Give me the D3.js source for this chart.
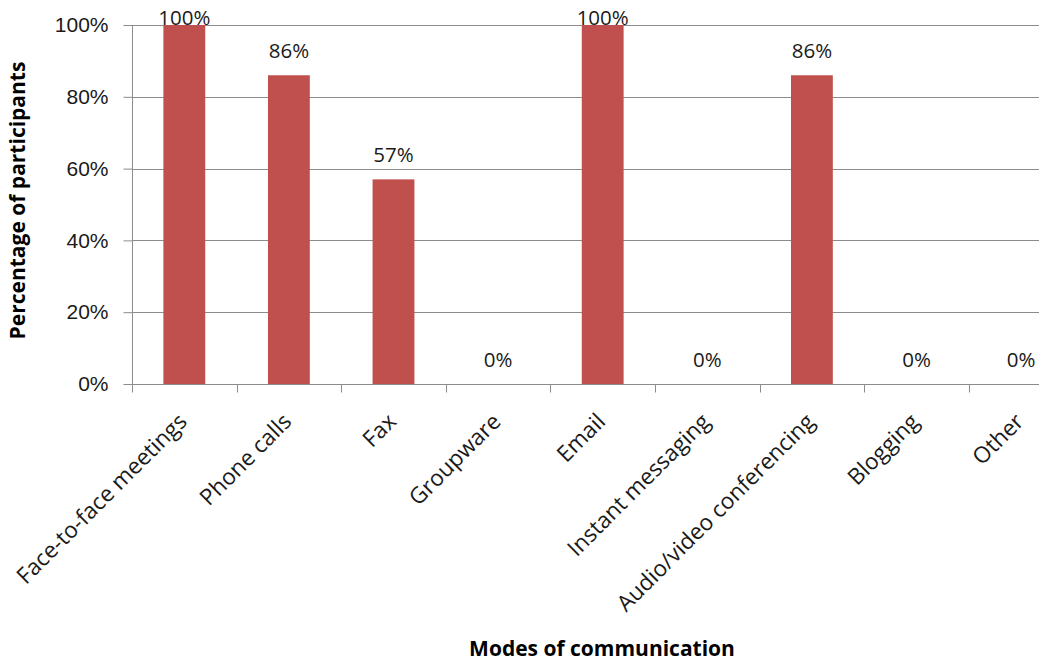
<!DOCTYPE html>
<html>
<head>
<meta charset="utf-8">
<script src="https://cdn.jsdelivr.net/npm/d3@7"></script>
<style>
  html, body { margin: 0; padding: 0; background: #fff; }
  svg { display: block; font-family: "Open Sans", sans-serif; }
</style>
</head>
<body>
<svg id="chart" width="1039" height="664"></svg>
<script>
// Share of participants using each mode of communication
const categories = [
  "Face-to-face meetings", "Phone calls", "Fax", "Groupware", "Email",
  "Instant messaging", "Audio/video conferencing", "Blogging", "Other"
];
const values = [100, 86, 57, 0, 100, 0, 86, 0, 0];
const yTicks = [0, 20, 40, 60, 80, 100];

const svg = d3.select("#chart");
const W = 1039, H = 664;
const plotLeft = 132, plotTop = 25, plotBottom = 384;
const band = 104.6;

const x = d3.scaleBand()
  .domain(categories)
  .range([plotLeft, plotLeft + band * categories.length])
  .paddingInner(0).paddingOuter(0);

const y = d3.scaleLinear().domain([0, 100]).range([plotBottom, plotTop]);

const textColor = "#1a1a1a";
const gridColor = "#8c8c8c";

// horizontal gridlines
svg.append("g")
  .selectAll("line")
  .data(yTicks.filter(d => d > 0))
  .join("line")
  .attr("x1", plotLeft).attr("x2", W)
  .attr("y1", d => Math.round(y(d)) + 0.5).attr("y2", d => Math.round(y(d)) + 0.5)
  .attr("stroke", gridColor).attr("stroke-width", 1);

// y axis
const yAxis = svg.append("g")
  .attr("transform", `translate(${plotLeft + 0.5},0)`)
  .call(d3.axisLeft(y).tickValues(yTicks).tickFormat(d => d + "%").tickSize(9).tickPadding(15));
yAxis.select(".domain").attr("stroke", gridColor).attr("d", `M0,${y(100)}V${y(0)}`);
yAxis.selectAll(".tick line").attr("stroke", gridColor);
yAxis.selectAll(".tick text")
  .attr("fill", textColor)
  .style("font-size", "21px");

// bars
const barW = x.bandwidth() / 2.5;
svg.append("g")
  .selectAll("rect")
  .data(values)
  .join("rect")
  .attr("x", (d, i) => x(categories[i]) + (x.bandwidth() - barW) / 2)
  .attr("y", d => y(d))
  .attr("width", barW)
  .attr("height", d => y(0) - y(d))
  .attr("fill", "#C0504D");

// x axis
const xAxis = svg.append("g")
  .attr("transform", `translate(0,${Math.round(y(0)) + 0.5})`);
xAxis.append("line")
  .attr("x1", plotLeft).attr("x2", W)
  .attr("stroke", gridColor);
xAxis.selectAll(".tk")
  .data(d3.range(categories.length + 1))
  .join("line")
  .attr("class", "tk")
  .attr("x1", i => Math.round(plotLeft + i * band) + 0.5)
  .attr("x2", i => Math.round(plotLeft + i * band) + 0.5)
  .attr("y1", 0).attr("y2", 8)
  .attr("stroke", gridColor);

// category labels
svg.append("g")
  .selectAll("text")
  .data(categories)
  .join("text")
  .attr("transform", d => `translate(${x(d) + x.bandwidth() / 2 + 4},${plotBottom + 39}) rotate(-45)`)
  .attr("text-anchor", "end")
  .attr("fill", textColor)
  .style("font-size", "22.5px")
  .text(d => d);

// value labels
svg.append("g")
  .selectAll("text")
  .data(values)
  .join("text")
  .attr("x", (d, i) => x(categories[i]) + x.bandwidth() / 2)
  .attr("y", d => Math.max(y(d) - 17, plotTop))
  .attr("text-anchor", "middle")
  .attr("fill", textColor)
  .style("font-size", "20.5px")
  .text(d => d + "%");

// axis titles
svg.append("text")
  .attr("x", 602).attr("y", 656)
  .attr("text-anchor", "middle")
  .attr("fill", "#000")
  .style("font-size", "21px").style("font-weight", "bold")
  .text("Modes of communication");

svg.append("text")
  .attr("transform", `translate(25,${(plotTop + plotBottom) / 2 - 4}) rotate(-90)`)
  .attr("text-anchor", "middle")
  .attr("fill", "#000")
  .style("font-size", "21px").style("font-weight", "bold")
  .text("Percentage of participants");
</script>
</body>
</html>
